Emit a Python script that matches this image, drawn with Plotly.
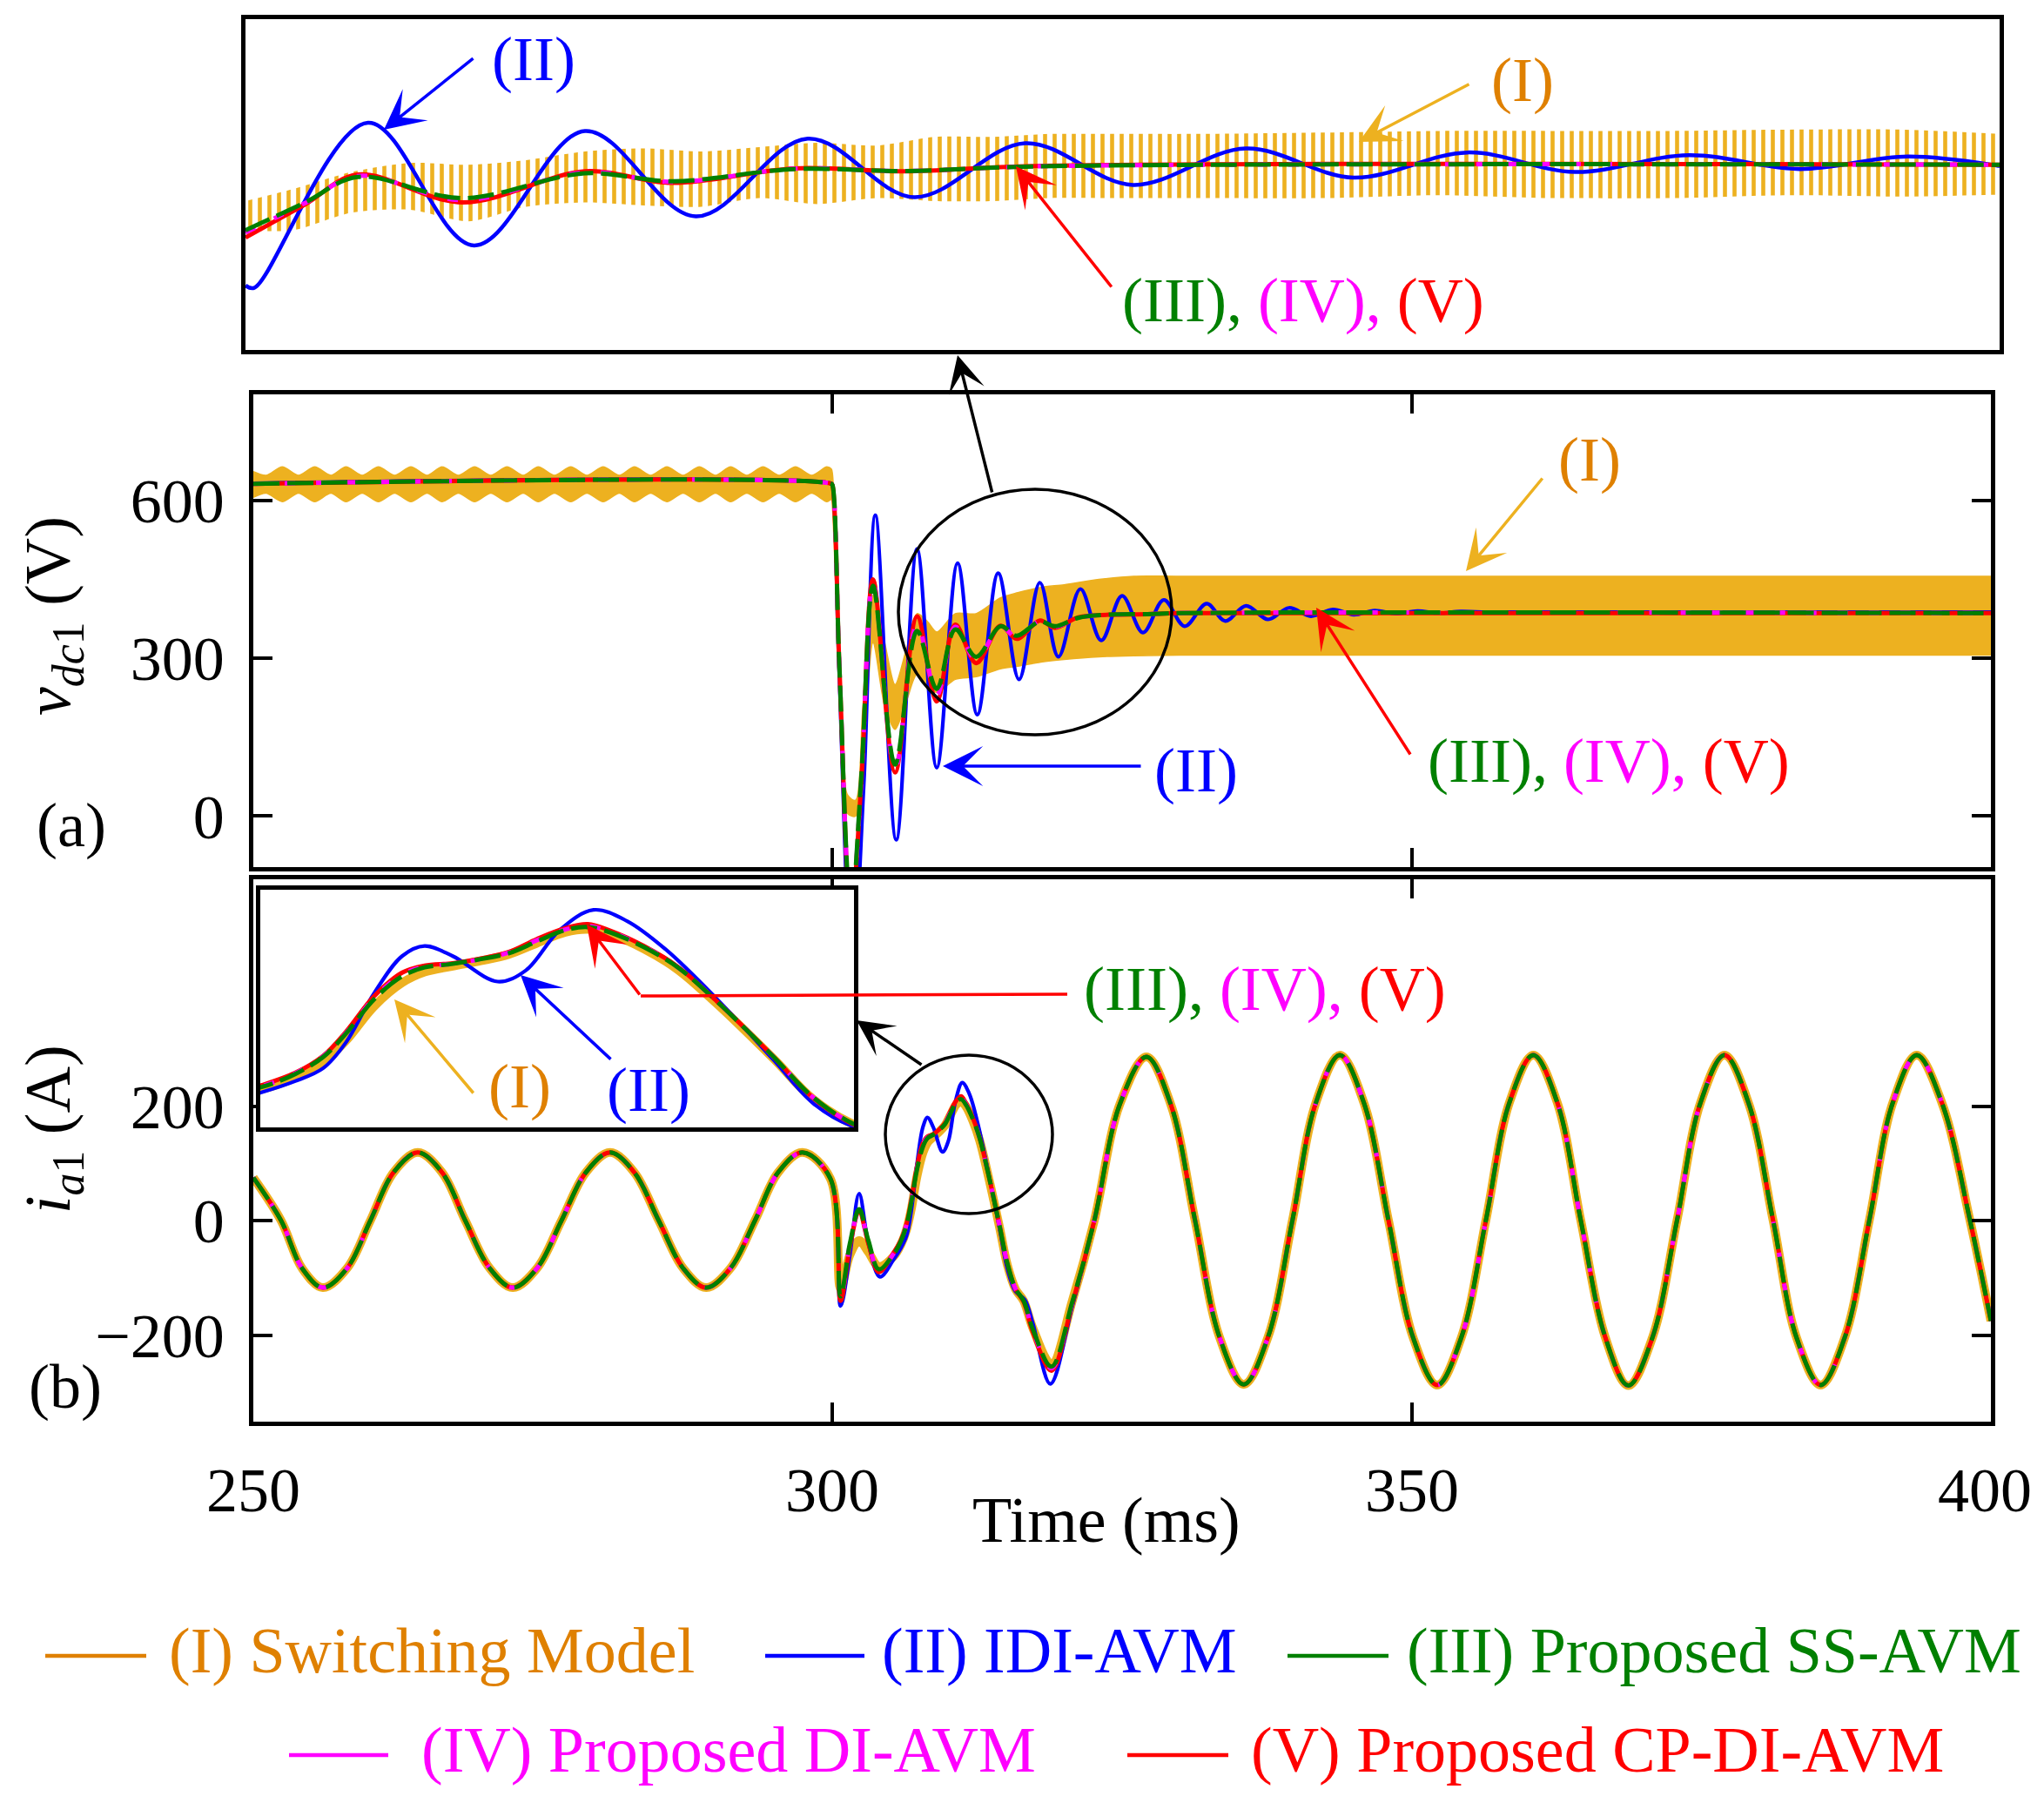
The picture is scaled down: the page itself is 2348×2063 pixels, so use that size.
import plotly.graph_objects as go

# ---------------- data ----------------
# (a) dc-link voltage v_dc1 [V] vs time [ms]
# switching model: ripple envelope (upper / lower edge of the yellow band)
t_vdc_sw = [250.0, 251.1, 252.5, 253.9, 255.3, 256.7, 258.0, 259.4, 260.8, 262.2, 263.6, 265.0,
            266.3, 267.7, 269.1, 270.5, 271.9, 273.3, 274.6, 276.0, 277.4, 278.8, 280.2, 281.6,
            282.9, 284.3, 285.7, 287.1, 288.5, 289.9, 291.2, 292.6, 294.0, 295.4, 296.8, 298.2,
            299.5, 299.9,
            300.0, 300.6, 301.3, 302.0, 302.6, 303.5, 304.5, 305.4, 306.4, 307.3,
            308.2, 309.0, 310.6, 312.4, 314.5, 316.0, 318.0, 320.0, 323.0, 326.0, 330.0, 400.0]
vdc_sw_hi = [655, 648, 664, 648, 664, 648, 664, 648, 664, 648, 664, 648,
             664, 648, 664, 648, 664, 648, 664, 648, 664, 648, 664, 648,
             664, 648, 664, 648, 664, 648, 664, 648, 664, 648, 664, 648,
             664, 660,
             650, 330, 40, 30, 200, 420, 330, 250, 320, 385,
             370, 350, 385, 385, 415, 425, 435, 440, 450, 456, 456, 456]
vdc_sw_lo = [606, 614, 598, 614, 598, 614, 598, 614, 598, 614, 598, 614,
             598, 614, 598, 614, 598, 614, 598, 614, 598, 614, 598, 614,
             598, 614, 598, 614, 598, 614, 598, 614, 598, 614, 598, 614,
             598, 602,
             585, 250, 5, 0, 100, 330, 210, 165, 220, 270,
             250, 235, 260, 265, 280, 285, 293, 298, 303, 305, 306, 306]

t_vdc_idi = [250.0, 299.9, 300.0, 300.55, 301.7, 302.7, 303.7, 305.5, 307.3, 309.0, 310.8, 312.5,
             314.3, 316.1, 317.9, 319.5, 321.4, 323.2, 325.0, 326.8, 328.6, 330.4, 332.3, 333.9,
             335.7, 337.6, 339.4, 341.3, 343.2, 345.0, 346.8, 348.6, 350.5, 352.3, 354.2, 356.0, 400.0]
vdc_idi = [633, 633, 630, 290, -300, 60, 572, -45, 508, 92, 481, 193,
           462, 260, 444, 303, 432, 334, 419, 349, 411, 361, 404, 371,
           400, 374, 396, 380, 393, 383, 391, 385, 390, 386, 389, 388, 388]

t_vdc_avm = [250.0, 299.9, 300.0, 300.6, 301.6, 302.5, 303.5, 305.4, 307.3, 309.0, 310.6,
             312.4, 314.5, 315.9, 317.9, 319.2, 321.2, 323.9, 327.2, 330.0, 400.0]
vdc_ss = [632, 632, 629, 280, -180, 80, 438, 98, 352, 242, 355, 303, 361, 343, 370, 361, 377, 383, 384, 386, 386]
vdc_di = [632, 632, 629, 280, -185, 75, 445, 90, 366, 230, 360, 297, 361, 340, 371, 360, 377, 383, 384, 386, 386]
vdc_cp = [632, 632, 629, 280, -190, 70, 450, 83, 380, 218, 364, 291, 362, 337, 372, 358, 378, 383, 384, 386, 386]

# (b) phase current i_a1 [A] vs time [ms]
# steady state before the step (same for all five models)
t_ia_pre = [250.0, 252.4, 254.2, 256.0, 258.1, 260.1, 262.1, 264.2, 266.3, 268.3,
            270.4, 272.4, 274.5, 276.6, 278.7, 280.8, 282.9, 285.0, 287.1, 289.1,
            291.2, 293.3, 295.3, 297.4, 299.8]
ia_pre = [75, 0, -83, -117, -83, 0, 84, 119, 84, 0,
          -83, -117, -83, 0, 84, 119, 84, 0, -83, -117,
          -83, 0, 84, 119, 74]
# steady state after the transient (same for all five models)
t_ia_post = [322.6, 324.8, 327.1, 329.2, 331.3, 333.4, 335.5, 337.6, 339.7, 341.7,
             343.8, 345.9, 348.0, 350.1, 352.2, 354.3, 356.4, 358.4, 360.5, 362.6,
             364.6, 366.7, 368.7, 370.8, 372.9, 374.9, 377.0, 379.1, 381.2, 383.2,
             385.3, 387.4, 389.5, 391.5, 393.6, 395.8, 398.2, 400.0]
ia_post = [0, 203, 286, 203, 0, -203, -286, -203, 0, 204,
           289, 204, 0, -203, -287, -203, 0, 204, 289, 204,
           0, -203, -288, -203, 0, 204, 289, 204, 0, -203,
           -287, -203, 0, 204, 289, 204, 0, -175]
# transient
t_ia_tr = [300.7, 301.5, 302.3, 303.1, 304.0, 305.3, 305.9, 306.4, 306.8, 307.3,
           307.8, 308.2, 308.7, 309.2, 309.7, 310.2, 310.7, 311.1, 311.5, 312.1,
           312.7, 313.4, 314.4, 315.1, 315.8, 316.5, 317.3, 318.9, 320.7]
ia_tr_sw = [-118, -60, -35, -55, -80, -62, -42, -15, 20, 78,
            118, 136, 146, 155, 166, 185, 203, 208, 200, 175,
            140, 82, -10, -78, -120, -140, -188, -250, -140]
ia_tr_ss = [-132, -40, 20, -35, -85, -58, -36, -7, 32, 90,
            129, 144, 150, 158, 168, 188, 207, 212, 203, 178,
            144, 86, -7, -75, -119, -140, -190, -255, -142]
ia_tr_di = [-136, -42, 18, -37, -87, -57, -35, -6, 33, 92,
            132, 145, 150, 158, 169, 190, 208, 214, 204, 179,
            144, 86, -7, -75, -119, -141, -192, -258, -143]
ia_tr_cp = [-140, -45, 15, -40, -90, -55, -34, -5, 35, 95,
            135, 147, 151, 159, 170, 192, 210, 217, 206, 180,
            145, 86, -7, -76, -120, -142, -195, -262, -145]
t_ia_tr_idi = [300.7, 301.5, 302.3, 303.1, 304.1, 305.3, 305.9, 306.4, 306.8, 307.3,
               307.8, 308.2, 308.7, 309.5, 310.0, 310.6, 311.2, 311.8, 312.5, 313.4,
               314.4, 315.1, 315.8, 316.6, 317.3, 318.8, 320.7]
ia_tr_idi = [-149, -60, 47, -40, -98, -67, -48, -26, 17, 100,
             163, 180, 163, 120, 139, 207, 241, 222, 173, 90,
             -12, -85, -124, -138, -180, -285, -150]

# magnified view of v_dc1 (top box, no scale shown: 0-100 units)
u_ins_sw = [0, 2.7, 6.05, 9.4, 12.7, 16.0, 19.35, 22.7, 26.0, 29.3, 32.6, 36.0,
            39.3, 42.6, 45.9, 49.3, 54.7, 61.3, 68.0, 74.6, 81.3, 87.9, 94.6, 100]
ins_sw_hi = [45.0, 48.6, 53.8, 56.5, 56.0, 57.4, 60.0, 60.9, 60.0, 61.3, 62.6, 61.8,
             64.4, 64.4, 65.3, 65.3, 65.3, 65.7, 66.2, 66.2, 66.2, 66.6, 66.6, 65.3]
ins_sw_lo = [36.2, 36.2, 41.5, 42.4, 38.9, 43.3, 44.6, 43.7, 43.3, 45.9, 44.1, 45.9,
             45.0, 45.0, 45.9, 45.9, 45.9, 45.9, 46.8, 45.9, 45.9, 46.8, 46.4, 47.0]
u_ins_idi = [0.0, 0.5, 6.98, 13.03, 19.35, 25.67, 32.05, 38.12, 44.45, 50.6, 57.03, 63.18,
             69.66, 75.8, 82.28, 88.6, 94.76, 100.0]
ins_idi = [19.5, 18.8, 68.7, 31.6, 66.2, 40.4, 63.9, 46.2, 62.5, 49.9, 60.9, 52.1,
           59.7, 53.8, 58.9, 54.7, 58.5, 55.6]
u_ins_avm = [0, 3.4, 6.38, 12.37, 19.35, 24.33, 31.3, 37.6, 45.0, 100]
ins_ss = [36.2, 44.6, 52.3, 45.9, 53.4, 51.0, 54.7, 54.1, 55.5, 56.0]
ins_di = [35.5, 44.4, 52.6, 45.3, 53.7, 50.8, 54.8, 54.1, 55.5, 56.0]
ins_cp = [34.0, 44.0, 53.0, 44.6, 54.0, 50.5, 54.9, 54.0, 55.6, 56.0]

time_ticks = [250, 300, 350, 400]

# ---------------- styling ----------------
C_SW = "#EDB120"
C_SW_TXT = "#DF8000"
C_IDI = "#0000FF"
C_SS = "#008000"
C_DI = "#FF00FF"
C_CP = "#FF0000"
FONT = "Liberation Serif"

W, H, OFF = 2330, 2045, 8


def px(x):
    return (x - OFF) / W


def py(y):
    return 1 - (y - OFF) / H


fig = go.Figure()


def line(x, y, color, width, xa, ya, dash="solid"):
    fig.add_trace(go.Scatter(
        x=x, y=y, mode="lines", xaxis=xa, yaxis=ya, showlegend=False, hoverinfo="skip",
        line=dict(color=color, width=width, dash=dash, shape="spline", smoothing=1.0)))


def band(x, lo, hi, xa, ya, pattern=False):
    edge = dict(color=C_SW, width=0 if pattern else 1.5, shape="spline", smoothing=0.8)
    fig.add_trace(go.Scatter(x=x, y=lo, mode="lines", xaxis=xa, yaxis=ya, showlegend=False,
                             hoverinfo="skip", line=edge))
    kw = dict(fill="tonexty", fillcolor=C_SW)
    if pattern:
        kw = dict(fill="tonexty", fillcolor="rgba(0,0,0,0)",
                  fillpattern=dict(shape="|", size=11, solidity=0.42, fgcolor=C_SW,
                                   bgcolor="rgba(0,0,0,0)", fillmode="replace"))
    fig.add_trace(go.Scatter(x=x, y=hi, mode="lines", xaxis=xa, yaxis=ya, showlegend=False,
                             hoverinfo="skip", line=edge, **kw))


def avm_set(t, ss, di, cp, xa, ya):
    line(t, cp, C_CP, 5, xa, ya)
    line(t, di, C_DI, 5, xa, ya, dash="12px,24px")
    line(t, ss, C_SS, 5, xa, ya, dash="30px,9px")


# top magnified box
band(u_ins_sw, ins_sw_lo, ins_sw_hi, "x4", "y4", pattern=True)
line(u_ins_idi, ins_idi, C_IDI, 4.5, "x4", "y4")
avm_set(u_ins_avm, ins_ss, ins_di, ins_cp, "x4", "y4")

# (a) v_dc1
band(t_vdc_sw, vdc_sw_lo, vdc_sw_hi, "x", "y")
line(t_vdc_idi, vdc_idi, C_IDI, 4.2, "x", "y")
avm_set(t_vdc_avm, vdc_ss, vdc_di, vdc_cp, "x", "y")

# (b) i_a1 and its inset
t_all = t_ia_pre + t_ia_tr + t_ia_post
t_all_idi = t_ia_pre + t_ia_tr_idi + t_ia_post
for xa, ya in (("x2", "y2"), ("x3", "y3")):
    line(t_all, ia_pre + ia_tr_sw + ia_post, C_SW, 10, xa, ya)
    line(t_all_idi, ia_pre + ia_tr_idi + ia_post, C_IDI, 4.2, xa, ya)
    avm_set(t_all, ia_pre + ia_tr_ss + ia_post, ia_pre + ia_tr_di + ia_post,
            ia_pre + ia_tr_cp + ia_post, xa, ya)

tickfont = dict(family=FONT, size=72, color="black")
frame = dict(showline=True, linecolor="black", linewidth=4.5, mirror="ticks", ticks="inside",
             ticklen=22, tickwidth=4, tickcolor="black", showgrid=False, zeroline=False,
             tickfont=tickfont, automargin=False)
box = dict(showline=True, linecolor="black", linewidth=4.5, mirror=True, ticks="",
           showticklabels=False, showgrid=False, zeroline=False, automargin=False)

fig.update_layout(
    width=W, height=H, margin=dict(l=0, r=0, t=0, b=0, autoexpand=False),
    plot_bgcolor="white", paper_bgcolor="white",
    xaxis=dict(frame, domain=[px(291), px(2287)], range=[250, 400], tickvals=[300, 350],
               showticklabels=False, anchor="y"),
    yaxis=dict(frame, domain=[py(996), py(453)], range=[-97, 802], tickvals=[0, 300, 600],
               ticklabelstandoff=14, anchor="x"),
    xaxis2=dict(frame, domain=[px(291), px(2287)], range=[250, 400],
                tickvals=time_ticks, showticklabels=False, anchor="y2"),
    yaxis2=dict(frame, domain=[py(1633), py(1010)], range=[-351, 596], tickvals=[-200, 0, 200],
                ticklabelstandoff=14, anchor="x2"),
    xaxis3=dict(box, domain=[px(299), px(981)], range=[305.28, 315.83], anchor="y3"),
    yaxis3=dict(box, domain=[py(1295), py(1022)], range=[-126, 275], anchor="x3"),
    xaxis4=dict(box, domain=[px(282), px(2297)], range=[0, 100], anchor="y4"),
    yaxis4=dict(box, domain=[py(402), py(22)], range=[0, 100], anchor="x4"),
)


def label(x, y, text, color="black", size=72, angle=0, anchor="center"):
    fig.add_annotation(x=px(x), y=py(y), xref="paper", yref="paper", text=text,
                       showarrow=False, textangle=angle, xanchor=anchor, yanchor="middle",
                       font=dict(family=FONT, size=size, color=color))


def arrow(tail, head, color, size=2.2, width=3.5):
    fig.add_annotation(x=px(head[0]), y=py(head[1]), xref="paper", yref="paper",
                       ax=tail[0] - head[0], ay=tail[1] - head[1], axref="pixel", ayref="pixel",
                       text="", showarrow=True, arrowhead=3, arrowsize=size,
                       arrowwidth=width, arrowcolor=color)


def ellipse(cx, cy, rx, ry):
    fig.add_shape(type="circle", xref="paper", yref="paper",
                  x0=px(cx - rx), x1=px(cx + rx), y0=py(cy + ry), y1=py(cy - ry),
                  line=dict(color="black", width=3.5))


# time tick labels under (b); the last one is kept inside the page edge
for tv in time_ticks:
    xpix = 291 + (tv - 250) * (2287 - 291) / 150
    if tv == time_ticks[-1]:
        label(2336, 1712, str(tv), anchor="right")
    else:
        label(xpix, 1712, str(tv))

trio = ('<span style="color:%s">(III),</span> <span style="color:%s">(IV),</span> '
        '<span style="color:%s">(V)</span>' % (C_SS, C_DI, C_CP))

# top box labels
label(613, 68, "(II)", C_IDI)
arrow((545, 66), (441, 149), C_IDI)
label(1749, 92, "(I)", C_SW_TXT)
arrow((1689, 96), (1561, 163), C_SW)
label(1497, 345, trio)
arrow((1278, 331), (1167, 191), C_CP)

# (a) labels
ellipse(1189, 703, 157, 141)
arrow((1140, 567), (1100, 408), "black", size=2.0)
label(1826, 528, "(I)", C_SW_TXT)
arrow((1773, 548), (1684, 656), C_SW)
label(1374, 885, "(II)", C_IDI)
arrow((1312, 880), (1083, 880), C_IDI)
label(1848, 874, trio)
arrow((1621, 868), (1512, 698), C_CP)
label(82, 948, "(a)")
label(60, 708, "<i>v</i><sub><i>dc</i>1</sub> (V)", size=74, angle=-90)

# (b) labels
ellipse(1113, 1303, 96, 91)
arrow((1060, 1224), (984, 1172), "black", size=2.0)
fig.add_shape(type="line", xref="paper", yref="paper", x0=px(1226), y0=py(1142),
              x1=px(736), y1=py(1144), line=dict(color=C_CP, width=3.5))
arrow((736, 1144), (674, 1062), C_CP)
label(1453, 1136, trio)
label(597, 1248, "(I)", C_SW_TXT)
arrow((545, 1257), (453, 1148), C_SW)
label(745, 1252, "(II)", C_IDI)
arrow((703, 1218), (598, 1120), C_IDI)
label(75, 1593, "(b)")
label(60, 1297, "<i>i</i><sub><i>a</i>1</sub> (A)", size=74, angle=-90)
label(1271, 1746, "Time (ms)", size=74)

# legend (two centred rows)
legend_rows = [
    (1902, [(52, 168, 192, "(I) Switching Model", C_SW_TXT),
            (879, 993, 1011, "(II) IDI-AVM", C_IDI),
            (1479, 1595, 1614, "(III) Proposed SS-AVM", C_SS)]),
    (2016, [(332, 446, 482, "(IV) Proposed DI-AVM", C_DI),
            (1295, 1411, 1435, "(V) Proposed CP-DI-AVM", C_CP)]),
]
for yrow, items in legend_rows:
    for xa, xb, xt, name, col in items:
        fig.add_shape(type="line", xref="paper", yref="paper", x0=px(xa), x1=px(xb),
                      y0=py(yrow), y1=py(yrow), line=dict(color=col, width=4.5))
        label(xt, yrow - 6, name, col, size=74, anchor="left")

fig.write_html("out.html")
